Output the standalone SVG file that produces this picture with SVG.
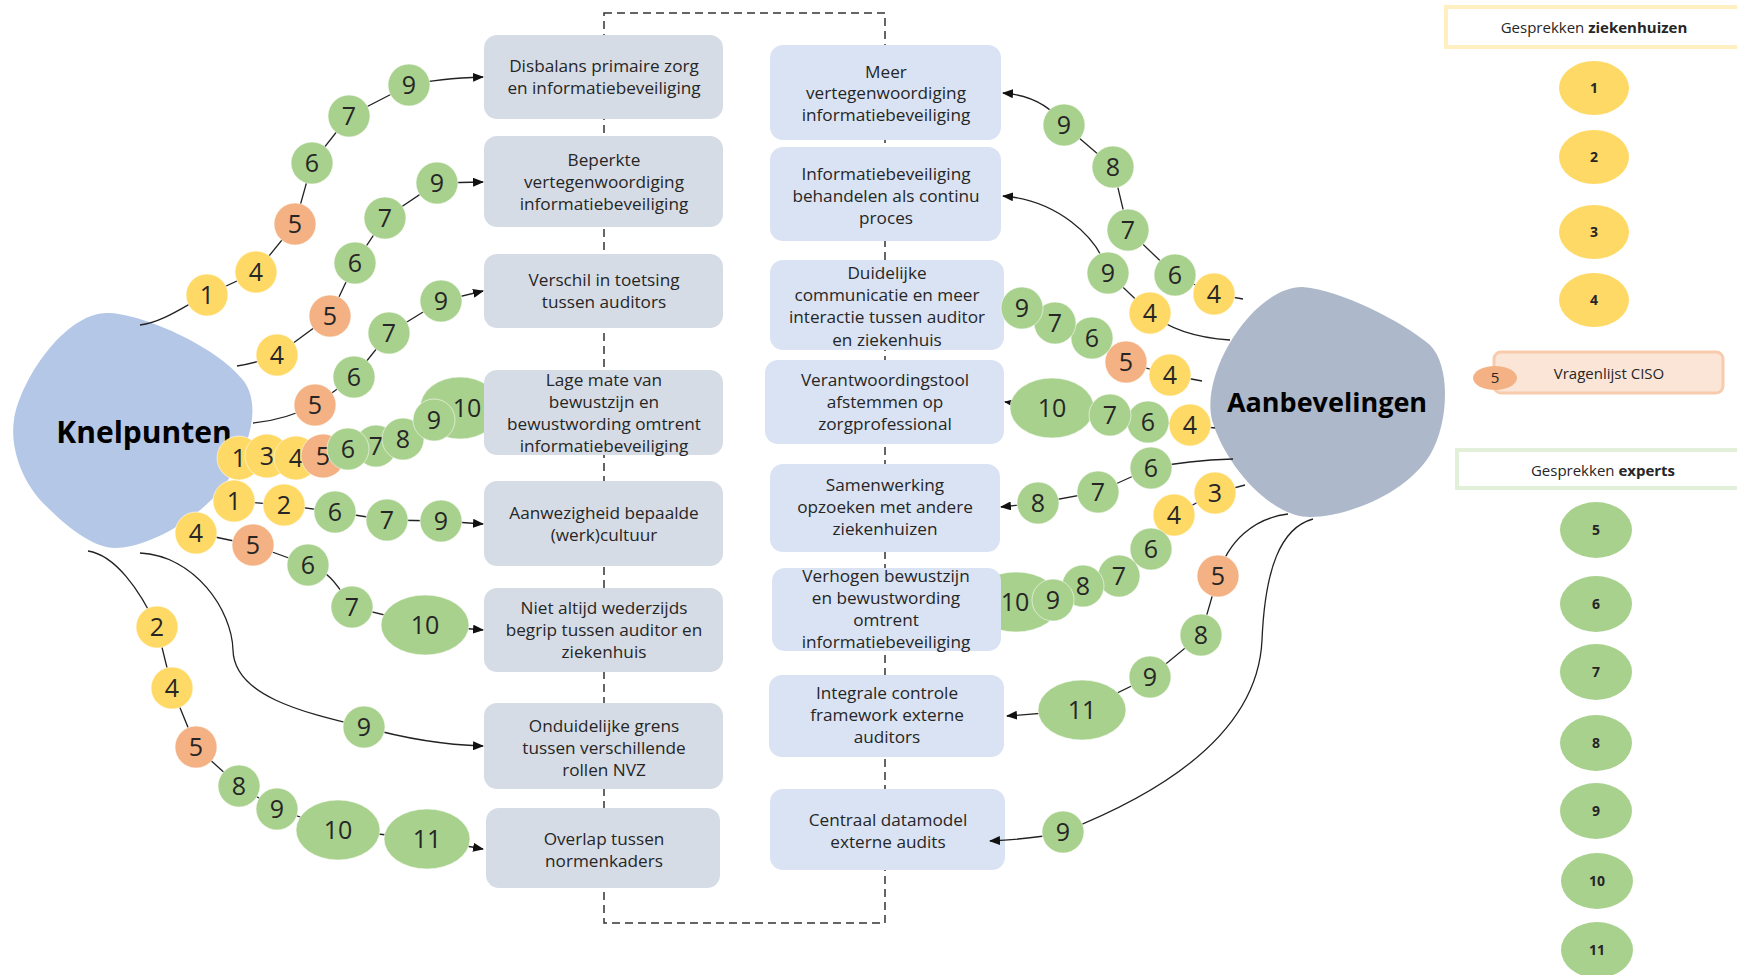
<svg xmlns="http://www.w3.org/2000/svg" width="1737" height="975" viewBox="0 0 1737 975">
<defs>
<style>
.bl{fill:#D6DCE5}
.br{fill:#DAE3F3}
.bt{font-family:"Open Sans","Noto Sans",sans-serif;font-size:17.2px;fill:#262626;text-anchor:middle}
.y{fill:#FFD966;stroke:#fff;stroke-opacity:.55;stroke-width:1}
.o{fill:#F4B183;stroke:#fff;stroke-opacity:.55;stroke-width:1}
.g{fill:#A9D18E;stroke:#fff;stroke-opacity:.55;stroke-width:1}
.n{font-family:"Open Sans","Noto Sans",sans-serif;font-size:25px;fill:#262626;text-anchor:middle}
.c{fill:none;stroke:#222;stroke-width:1.3}
.ca{fill:none;stroke:#222;stroke-width:1.3;marker-end:url(#arr)}
.lg{font-family:"Open Sans","Noto Sans",sans-serif;font-size:14px;font-weight:bold;fill:#262626;text-anchor:middle}
.lt{font-family:"Open Sans","Noto Sans",sans-serif;font-size:15px;fill:#262626;text-anchor:middle}
.big{font-family:"Open Sans","Noto Sans",sans-serif;font-weight:bold;fill:#000;text-anchor:middle}
</style>
<marker id="arr" markerUnits="userSpaceOnUse" markerWidth="11" markerHeight="9" refX="10" refY="4.5" orient="auto">
<path d="M0,0 L11,4.5 L0,9 Z" fill="#111"/>
</marker>
</defs>
<rect width="1737" height="975" fill="#fff"/>

<g id="frame">
<path d="M604 13 H885 V923 H604 Z" fill="none" stroke="#333" stroke-width="1.5" stroke-dasharray="8 5"/>
</g>

<g id="knelpunten">
<path d="M107 313 C140 313 215 345 243 380 C262 405 250 445 228 480 C205 515 150 548 115 548 C95 548 70 530 45 505 C20 480 10 445 14 420 C20 380 65 313 107 313 Z" fill="#B4C7E7"/>
<text class="big" x="144" y="443" font-size="30">Knelpunten</text>
</g>

<g id="aanbevelingen">
<path d="M1302 287 C1340 290 1400 320 1430 345 C1450 365 1450 420 1430 455 C1405 495 1345 517 1310 517 C1270 517 1225 465 1212 420 C1200 370 1255 287 1302 287 Z" fill="#ADB9CA"/>
<text class="big" x="1327" y="412" font-size="27">Aanbevelingen</text>
</g>

<g id="hidden-tens">
<ellipse class="g" cx="460" cy="408" rx="40" ry="31"/>
<text class="n" x="467" y="417">10</text>
<ellipse class="g" cx="1016" cy="602" rx="44" ry="30"/>
<text class="n" x="1015" y="611">10</text>
</g>

<g id="left-boxes">
<g id="k1"><rect class="bl" x="484" y="35" width="239" height="84" rx="13"/>
<text class="bt" x="604" y="72">Disbalans primaire zorg</text><text class="bt" x="604" y="94">en informatiebeveiliging</text></g>
<g id="k2"><rect class="bl" x="484" y="136" width="239" height="91" rx="13"/>
<text class="bt" x="604" y="166">Beperkte</text><text class="bt" x="604" y="188">vertegenwoordiging</text><text class="bt" x="604" y="210">informatiebeveiliging</text></g>
<g id="k3"><rect class="bl" x="484" y="254" width="239" height="74" rx="13"/>
<text class="bt" x="604" y="286">Verschil in toetsing</text><text class="bt" x="604" y="308">tussen auditors</text></g>
<g id="k4"><rect class="bl" x="484" y="370" width="239" height="85" rx="13"/>
<text class="bt" x="604" y="386">Lage mate van</text><text class="bt" x="604" y="408">bewustzijn en</text><text class="bt" x="604" y="430">bewustwording omtrent</text><text class="bt" x="604" y="452">informatiebeveiliging</text></g>
<g id="k5"><rect class="bl" x="484" y="481" width="239" height="85" rx="13"/>
<text class="bt" x="604" y="519">Aanwezigheid bepaalde</text><text class="bt" x="604" y="541">(werk)cultuur</text></g>
<g id="k6"><rect class="bl" x="484" y="588" width="239" height="84" rx="13"/>
<text class="bt" x="604" y="614">Niet altijd wederzijds</text><text class="bt" x="604" y="636">begrip tussen auditor en</text><text class="bt" x="604" y="658">ziekenhuis</text></g>
<g id="k7"><rect class="bl" x="484" y="703" width="239" height="86" rx="13"/>
<text class="bt" x="604" y="732">Onduidelijke grens</text><text class="bt" x="604" y="754">tussen verschillende</text><text class="bt" x="604" y="776">rollen NVZ</text></g>
<g id="k8"><rect class="bl" x="486" y="808" width="234" height="80" rx="13"/>
<text class="bt" x="604" y="845">Overlap tussen</text><text class="bt" x="604" y="867">normenkaders</text></g>
</g>

<g id="right-boxes">
<g id="a1"><rect class="br" x="770" y="45" width="231" height="95" rx="13"/>
<text class="bt" x="886" y="78">Meer</text><text class="bt" x="886" y="99">vertegenwoordiging</text><text class="bt" x="886" y="121">informatiebeveiliging</text></g>
<g id="a2"><rect class="br" x="770" y="147" width="231" height="94" rx="13"/>
<text class="bt" x="886" y="180">Informatiebeveiliging</text><text class="bt" x="886" y="202">behandelen als continu</text><text class="bt" x="886" y="224">proces</text></g>
<g id="a3"><rect class="br" x="770" y="260" width="234" height="90" rx="13"/>
<text class="bt" x="887" y="279">Duidelijke</text><text class="bt" x="887" y="301">communicatie en meer</text><text class="bt" x="887" y="323">interactie tussen auditor</text><text class="bt" x="887" y="346">en ziekenhuis</text></g>
<g id="a4"><rect class="br" x="765" y="360" width="239" height="84" rx="13"/>
<text class="bt" x="885" y="386">Verantwoordingstool</text><text class="bt" x="885" y="408">afstemmen op</text><text class="bt" x="885" y="430">zorgprofessional</text></g>
<g id="a5"><rect class="br" x="770" y="464" width="230" height="88" rx="13"/>
<text class="bt" x="885" y="491">Samenwerking</text><text class="bt" x="885" y="513">opzoeken met andere</text><text class="bt" x="885" y="535">ziekenhuizen</text></g>
<g id="a6"><rect class="br" x="772" y="568" width="229" height="83" rx="13"/>
<text class="bt" x="886" y="582">Verhogen bewustzijn</text><text class="bt" x="886" y="604">en bewustwording</text><text class="bt" x="886" y="626">omtrent</text><text class="bt" x="886" y="648">informatiebeveiliging</text></g>
<g id="a7"><rect class="br" x="769" y="675" width="235" height="82" rx="13"/>
<text class="bt" x="887" y="699">Integrale controle</text><text class="bt" x="887" y="721">framework externe</text><text class="bt" x="887" y="743">auditors</text></g>
<g id="a8"><rect class="br" x="770" y="789" width="235" height="81" rx="13"/>
<text class="bt" x="888" y="826">Centraal datamodel</text><text class="bt" x="888" y="848">externe audits</text></g>
</g>

<g id="connectors">
<path class="ca" d="M140 325 C165 322 190 302 207 295 L256 272 L295 224 L312 163 L349 116 L409 85 C432 80 455 78 483 77"/>
<path class="ca" d="M237 366 C250 364 262 361 277 355 L330 316 L355 263 L385 218 L437 183 L483 182"/>
<path class="ca" d="M253 423 C275 421 295 415 315 405 L354 377 L389 333 L441 301 L483 291"/>
<path class="c" d="M239 458 L267 456 L296 458 L323 456 L348 449 L376 446 L403 439 L434 420"/>
<path class="ca" d="M234 501 L284 505 L335 512 L387 520 L441 521 L483 524"/>
<path class="ca" d="M196 533 L253 545 L308 565 C330 570 340 590 352 607 L425 625 L483 630"/>
<path class="ca" d="M140 553 C195 556 232 610 233 650 C234 695 300 712 364 727 C410 740 450 745 483 746"/>
<path class="ca" d="M88 551 C115 555 140 590 157 627 L172 688 L196 747 L239 786 L277 809 L338 830 L427 839 L483 849"/>
<path class="ca" d="M1243 299 L1214 294 L1175 275 L1128 230 L1113 167 L1064 125 C1050 105 1030 95 1003 93"/>
<path class="ca" d="M1230 340 C1200 338 1170 330 1150 313 L1108 273 C1098 235 1055 200 1003 196"/>
<path class="c" d="M1202 381 L1170 375 L1126 362 L1092 338 L1055 323 L1022 308"/>
<path class="ca" d="M1215 428 L1190 425 L1148 422 L1110 415 L1052 408 L1005 402"/>
<path class="ca" d="M1233 459 C1200 460 1175 463 1151 468 L1098 492 L1038 503 L1001 507"/>
<path class="c" d="M1245 485 L1215 493 L1174 515 L1151 549 L1119 576 L1083 586 L1053 600"/>
<path class="ca" d="M1288 514 C1255 518 1228 540 1218 576 L1201 635 L1150 677 L1082 710 L1007 716"/>
<path class="ca" d="M1313 519 C1280 528 1265 570 1262 640 C1258 730 1170 790 1063 832 C1040 838 1010 840 990 841"/>
</g>

<g id="chain-k1">
<circle class="y" cx="207" cy="295" r="21"/><text class="n" x="207" y="304">1</text>
<circle class="y" cx="256" cy="272" r="21"/><text class="n" x="256" y="281">4</text>
<circle class="o" cx="295" cy="224" r="21"/><text class="n" x="295" y="233">5</text>
<circle class="g" cx="312" cy="163" r="21"/><text class="n" x="312" y="172">6</text>
<circle class="g" cx="349" cy="116" r="21"/><text class="n" x="349" y="125">7</text>
<circle class="g" cx="409" cy="85" r="21"/><text class="n" x="409" y="94">9</text>
</g>
<g id="chain-k2">
<circle class="y" cx="277" cy="355" r="21"/><text class="n" x="277" y="364">4</text>
<circle class="o" cx="330" cy="316" r="21"/><text class="n" x="330" y="325">5</text>
<circle class="g" cx="355" cy="263" r="21"/><text class="n" x="355" y="272">6</text>
<circle class="g" cx="385" cy="218" r="21"/><text class="n" x="385" y="227">7</text>
<circle class="g" cx="437" cy="183" r="21"/><text class="n" x="437" y="192">9</text>
</g>
<g id="chain-k3">
<circle class="o" cx="315" cy="405" r="21"/><text class="n" x="315" y="414">5</text>
<circle class="g" cx="354" cy="377" r="21"/><text class="n" x="354" y="386">6</text>
<circle class="g" cx="389" cy="333" r="21"/><text class="n" x="389" y="342">7</text>
<circle class="g" cx="441" cy="301" r="21"/><text class="n" x="441" y="310">9</text>
</g>
<g id="chain-k4">
<circle class="y" cx="239" cy="458" r="22"/><text class="n" x="239" y="467">1</text>
<circle class="y" cx="267" cy="456" r="22"/><text class="n" x="267" y="465">3</text>
<circle class="y" cx="296" cy="458" r="22"/><text class="n" x="296" y="467">4</text>
<circle class="o" cx="323" cy="456" r="22"/><text class="n" x="323" y="465">5</text>
<circle class="g" cx="376" cy="446" r="21"/><text class="n" x="376" y="455">7</text>
<circle class="g" cx="348" cy="449" r="21"/><text class="n" x="348" y="458">6</text>
<circle class="g" cx="403" cy="439" r="21"/><text class="n" x="403" y="448">8</text>
<circle class="g" cx="434" cy="420" r="21"/><text class="n" x="434" y="429">9</text>
</g>
<g id="chain-k5">
<circle class="y" cx="234" cy="501" r="21"/><text class="n" x="234" y="510">1</text>
<circle class="y" cx="284" cy="505" r="21"/><text class="n" x="284" y="514">2</text>
<circle class="g" cx="335" cy="512" r="21"/><text class="n" x="335" y="521">6</text>
<circle class="g" cx="387" cy="520" r="21"/><text class="n" x="387" y="529">7</text>
<circle class="g" cx="441" cy="521" r="21"/><text class="n" x="441" y="530">9</text>
</g>
<g id="chain-k6">
<circle class="y" cx="196" cy="533" r="21"/><text class="n" x="196" y="542">4</text>
<circle class="o" cx="253" cy="545" r="21"/><text class="n" x="253" y="554">5</text>
<circle class="g" cx="308" cy="565" r="21"/><text class="n" x="308" y="574">6</text>
<circle class="g" cx="352" cy="607" r="21"/><text class="n" x="352" y="616">7</text>
<ellipse class="g" cx="425" cy="625" rx="44" ry="30"/><text class="n" x="425" y="634">10</text>
</g>
<g id="chain-k7">
<circle class="g" cx="364" cy="727" r="21"/><text class="n" x="364" y="736">9</text>
</g>
<g id="chain-k8">
<circle class="y" cx="157" cy="627" r="21"/><text class="n" x="157" y="636">2</text>
<circle class="y" cx="172" cy="688" r="21"/><text class="n" x="172" y="697">4</text>
<circle class="o" cx="196" cy="747" r="21"/><text class="n" x="196" y="756">5</text>
<circle class="g" cx="239" cy="786" r="21"/><text class="n" x="239" y="795">8</text>
<circle class="g" cx="277" cy="809" r="21"/><text class="n" x="277" y="818">9</text>
<ellipse class="g" cx="338" cy="830" rx="42" ry="30"/><text class="n" x="338" y="839">10</text>
<ellipse class="g" cx="427" cy="839" rx="43" ry="30"/><text class="n" x="427" y="848">11</text>
</g>

<g id="chain-a1">
<circle class="y" cx="1214" cy="294" r="21"/><text class="n" x="1214" y="303">4</text>
<circle class="g" cx="1175" cy="275" r="21"/><text class="n" x="1175" y="284">6</text>
<circle class="g" cx="1128" cy="230" r="21"/><text class="n" x="1128" y="239">7</text>
<circle class="g" cx="1113" cy="167" r="21"/><text class="n" x="1113" y="176">8</text>
<circle class="g" cx="1064" cy="125" r="21"/><text class="n" x="1064" y="134">9</text>
</g>
<g id="chain-a2">
<circle class="y" cx="1150" cy="313" r="21"/><text class="n" x="1150" y="322">4</text>
<circle class="g" cx="1108" cy="273" r="21"/><text class="n" x="1108" y="282">9</text>
</g>
<g id="chain-a3">
<circle class="y" cx="1170" cy="375" r="21"/><text class="n" x="1170" y="384">4</text>
<circle class="o" cx="1126" cy="362" r="21"/><text class="n" x="1126" y="371">5</text>
<circle class="g" cx="1092" cy="338" r="21"/><text class="n" x="1092" y="347">6</text>
<circle class="g" cx="1055" cy="323" r="21"/><text class="n" x="1055" y="332">7</text>
<circle class="g" cx="1022" cy="308" r="21"/><text class="n" x="1022" y="317">9</text>
</g>
<g id="chain-a4">
<ellipse class="g" cx="1052" cy="408" rx="42" ry="30"/><text class="n" x="1052" y="417">10</text>
<circle class="y" cx="1190" cy="425" r="21"/><text class="n" x="1190" y="434">4</text>
<circle class="g" cx="1148" cy="422" r="21"/><text class="n" x="1148" y="431">6</text>
<circle class="g" cx="1110" cy="415" r="21"/><text class="n" x="1110" y="424">7</text>
</g>
<g id="chain-a5">
<circle class="g" cx="1151" cy="468" r="21"/><text class="n" x="1151" y="477">6</text>
<circle class="g" cx="1098" cy="492" r="21"/><text class="n" x="1098" y="501">7</text>
<circle class="g" cx="1038" cy="503" r="21"/><text class="n" x="1038" y="512">8</text>
</g>
<g id="chain-a6">
<circle class="y" cx="1215" cy="493" r="21"/><text class="n" x="1215" y="502">3</text>
<circle class="y" cx="1174" cy="515" r="21"/><text class="n" x="1174" y="524">4</text>
<circle class="g" cx="1151" cy="549" r="21"/><text class="n" x="1151" y="558">6</text>
<circle class="g" cx="1119" cy="576" r="21"/><text class="n" x="1119" y="585">7</text>
<circle class="g" cx="1083" cy="586" r="21"/><text class="n" x="1083" y="595">8</text>
<circle class="g" cx="1053" cy="600" r="21"/><text class="n" x="1053" y="609">9</text>
</g>
<g id="chain-a7">
<circle class="o" cx="1218" cy="576" r="21"/><text class="n" x="1218" y="585">5</text>
<circle class="g" cx="1201" cy="635" r="21"/><text class="n" x="1201" y="644">8</text>
<circle class="g" cx="1150" cy="677" r="21"/><text class="n" x="1150" y="686">9</text>
<ellipse class="g" cx="1082" cy="710" rx="44" ry="30"/><text class="n" x="1082" y="719">11</text>
</g>
<g id="chain-a8">
<circle class="g" cx="1063" cy="832" r="21"/><text class="n" x="1063" y="841">9</text>
</g>

<g id="legend">
<rect x="1446" y="7" width="300" height="40" fill="#fff" stroke="#FFEFC1" stroke-width="4"/>
<text class="lt" x="1594" y="33">Gesprekken <tspan font-weight="bold">ziekenhuizen</tspan></text>
<ellipse cx="1594" cy="88" rx="35" ry="27" fill="#FFD966"/><text class="lg" x="1594" y="93">1</text>
<ellipse cx="1594" cy="157" rx="35" ry="27" fill="#FFD966"/><text class="lg" x="1594" y="162">2</text>
<ellipse cx="1594" cy="232" rx="35" ry="27" fill="#FFD966"/><text class="lg" x="1594" y="237">3</text>
<ellipse cx="1594" cy="300" rx="35" ry="27" fill="#FFD966"/><text class="lg" x="1594" y="305">4</text>
<rect x="1494" y="352" width="229" height="41" rx="7" fill="#FBE5D6" stroke="#F8CBAD" stroke-width="3"/>
<text class="lt" x="1609" y="379">Vragenlijst CISO</text>
<ellipse cx="1495" cy="378" rx="22" ry="12" fill="#F4B183"/><text class="lt" x="1495" y="383" font-size="14">5</text>
<rect x="1457" y="450" width="290" height="38" fill="#fff" stroke="#E2F0D9" stroke-width="4"/>
<text class="lt" x="1603" y="476">Gesprekken <tspan font-weight="bold">experts</tspan></text>
<ellipse cx="1596" cy="530" rx="36" ry="28" fill="#A9D18E"/><text class="lg" x="1596" y="535">5</text>
<ellipse cx="1596" cy="604" rx="36" ry="28" fill="#A9D18E"/><text class="lg" x="1596" y="609">6</text>
<ellipse cx="1596" cy="672" rx="36" ry="28" fill="#A9D18E"/><text class="lg" x="1596" y="677">7</text>
<ellipse cx="1596" cy="743" rx="36" ry="28" fill="#A9D18E"/><text class="lg" x="1596" y="748">8</text>
<ellipse cx="1596" cy="811" rx="36" ry="28" fill="#A9D18E"/><text class="lg" x="1596" y="816">9</text>
<ellipse cx="1597" cy="881" rx="36" ry="28" fill="#A9D18E"/><text class="lg" x="1597" y="886">10</text>
<ellipse cx="1597" cy="950" rx="36" ry="28" fill="#A9D18E"/><text class="lg" x="1597" y="955">11</text>
</g>
</svg>
